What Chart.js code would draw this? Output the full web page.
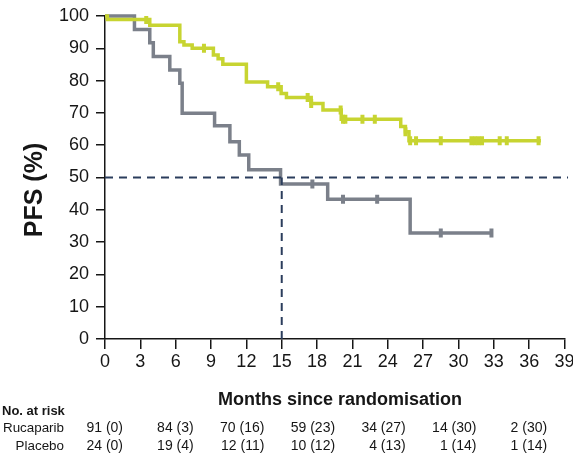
<!DOCTYPE html>
<html><head><meta charset="utf-8">
<script src="https://cdn.jsdelivr.net/npm/chart.js@4"></script>
<style>html,body{margin:0;padding:0;background:#fff}#wrap{width:573px;height:459px}</style>
</head><body><div id="wrap"><canvas id="c" width="573" height="459"></canvas></div>
<script>
// Kaplan-Meier progression-free survival, step values (%) at each event time (months)
const rucaparibTimes = [0, 0.2, 3.8, 6.35, 6.7, 7.4, 9.2, 9.6, 10.0, 12.0, 13.8, 14.95, 15.4, 17.5, 18.5, 20.05, 25.1, 25.5, 25.8, 37.0];
const rucaparibSurv  = [100, 98.9, 97.1, 92.0, 91.0, 90.0, 87.9, 86.8, 85.1, 79.6, 78.1, 76.0, 74.8, 72.9, 70.9, 68.0, 65.8, 64.2, 61.4, 61.4];
const rucaparibCensored = [3.5, 8.4, 14.7, 17.2, 17.5, 20.0, 20.2, 20.4, 21.85, 22.9, 25.5, 25.9, 26.4, 28.5, 31.1, 31.4, 31.7, 32.0, 33.5, 34.1, 36.8];

const placeboTimes = [0, 2.5, 3.8, 4.1, 5.5, 6.35, 6.55, 9.3, 10.6, 11.4, 12.2, 14.9, 18.9, 25.9, 32.8];
const placeboSurv  = [100, 95.8, 91.7, 87.5, 83.3, 79.2, 69.9, 66.0, 61.1, 57.0, 52.4, 48.0, 43.3, 32.8, 32.8];
const placeboCensored = [17.6, 20.2, 23.1, 28.5, 32.8];

// median PFS reference lines
const medianLevel = 50;
const medianMonths = 15;

// numbers at risk (censored)
const riskMonths = [0, 6, 12, 18, 24, 30, 36];
const rucaparibAtRisk = ['91 (0)', '84 (3)', '70 (16)', '59 (23)', '34 (27)', '14 (30)', '2 (30)'];
const placeboAtRisk  = ['24 (0)', '19 (4)', '12 (11)', '10 (12)', '4 (13)', '1 (14)', '1 (14)'];

const GREEN = '#c7d431';
const GREY = '#7b808a';
const NAVY = '#2b3d5c';
const INK = '#161616';
const FONT = '"Liberation Sans", Arial, Helvetica, sans-serif';

const toPoints = (ts, vs) => ts.map((t, i) => ({x: t, y: vs[i]}));
// survival level in force at time t
const levelAt = (ts, vs, t) => { let v = vs[0]; ts.forEach((ti, i) => { if (ti <= t) v = vs[i]; }); return v; };
const censorPoints = (cs, ts, vs) => cs.map(t => ({x: t, y: levelAt(ts, vs, t)}));

const textPlugin = {
  id: 'kmText',
  afterDraw(chart) {
    const ctx = chart.ctx;
    const xs = chart.scales.x;
    ctx.save();
    ctx.fillStyle = INK;
    // y title
    ctx.save();
    ctx.translate(41.5, 190);
    ctx.rotate(-Math.PI / 2);
    ctx.font = 'bold 25px ' + FONT;
    ctx.textAlign = 'center';
    ctx.textBaseline = 'alphabetic';
    ctx.fillText('PFS (%)', 0, 0);
    ctx.restore();
    // x title
    ctx.font = 'bold 18px ' + FONT;
    ctx.textAlign = 'center';
    ctx.textBaseline = 'alphabetic';
    ctx.fillText('Months since randomisation', 340, 405);
    // at-risk table
    ctx.font = 'bold 13px ' + FONT;
    ctx.textAlign = 'left';
    ctx.fillText('No. at risk', 2, 415);
    ctx.font = '13.4px ' + FONT;
    ctx.textAlign = 'right';
    ctx.fillText('Rucaparib', 64, 432);
    ctx.fillText('Placebo', 64, 450);
    ctx.font = '14px ' + FONT;
    riskMonths.forEach((m, i) => {
      const px = xs.getPixelForValue(m) + 18;
      ctx.fillText(rucaparibAtRisk[i], px, 432);
      ctx.fillText(placeboAtRisk[i], px, 450);
    });
    ctx.restore();
  }
};

new Chart(document.getElementById('c'), {
  type: 'scatter',
  data: {
    datasets: [
      { label: 'median level', data: [{x: 0, y: medianLevel}, {x: 39.3, y: medianLevel}], showLine: true,
        borderColor: NAVY, borderWidth: 2, borderDash: [8, 6], pointRadius: 0, clip: false },
      { label: 'median time', data: [{x: medianMonths, y: 0}, {x: medianMonths, y: medianLevel}], showLine: true,
        borderColor: NAVY, borderWidth: 2, borderDash: [8, 6], pointRadius: 0 },
      { label: 'Rucaparib', data: toPoints(rucaparibTimes, rucaparibSurv), showLine: true, stepped: 'before',
        borderColor: GREEN, borderWidth: 3.5, pointRadius: 0, clip: 4 },
      { label: 'Rucaparib censored', data: censorPoints(rucaparibCensored, rucaparibTimes, rucaparibSurv),
        pointStyle: 'line', rotation: 90, radius: 4.5, borderWidth: 4, borderColor: GREEN, backgroundColor: GREEN },
      { label: 'Placebo', data: toPoints(placeboTimes, placeboSurv), showLine: true, stepped: 'before',
        borderColor: GREY, borderWidth: 3.5, pointRadius: 0, clip: 4 },
      { label: 'Placebo censored', data: censorPoints(placeboCensored, placeboTimes, placeboSurv),
        pointStyle: 'line', rotation: 90, radius: 4.5, borderWidth: 4, borderColor: GREY, backgroundColor: GREY }
    ]
  },
  options: {
    responsive: false,
    animation: false,
    devicePixelRatio: 1,
    layout: { padding: { left: 0, top: 16, right: 7, bottom: 0 } },
    plugins: { legend: { display: false }, tooltip: { enabled: false } },
    elements: { line: { tension: 0 } },
    scales: {
      x: {
        type: 'linear', min: 0, max: 39,
        ticks: { stepSize: 3, color: INK, font: { family: FONT, size: 18 }, padding: 2, maxRotation: 0, autoSkip: false },
        grid: { drawOnChartArea: false, drawTicks: true, tickLength: 10, color: INK, lineWidth: 1.5 },
        border: { color: INK, width: 1.5 },
        afterFit(s) { s.height = 120; s.paddingLeft = 0; s.paddingRight = 0; }
      },
      y: {
        min: 0, max: 100,
        ticks: { stepSize: 10, color: INK, font: { family: FONT, size: 18 }, padding: 7 },
        grid: { drawOnChartArea: false, drawTicks: true, tickLength: 9, color: INK, lineWidth: 1.5 },
        border: { color: INK, width: 1.5 },
        afterFit(s) { s.width = 105; s.paddingTop = 0; s.paddingBottom = 0; }
      }
    }
  },
  plugins: [textPlugin]
});
</script></body></html>
